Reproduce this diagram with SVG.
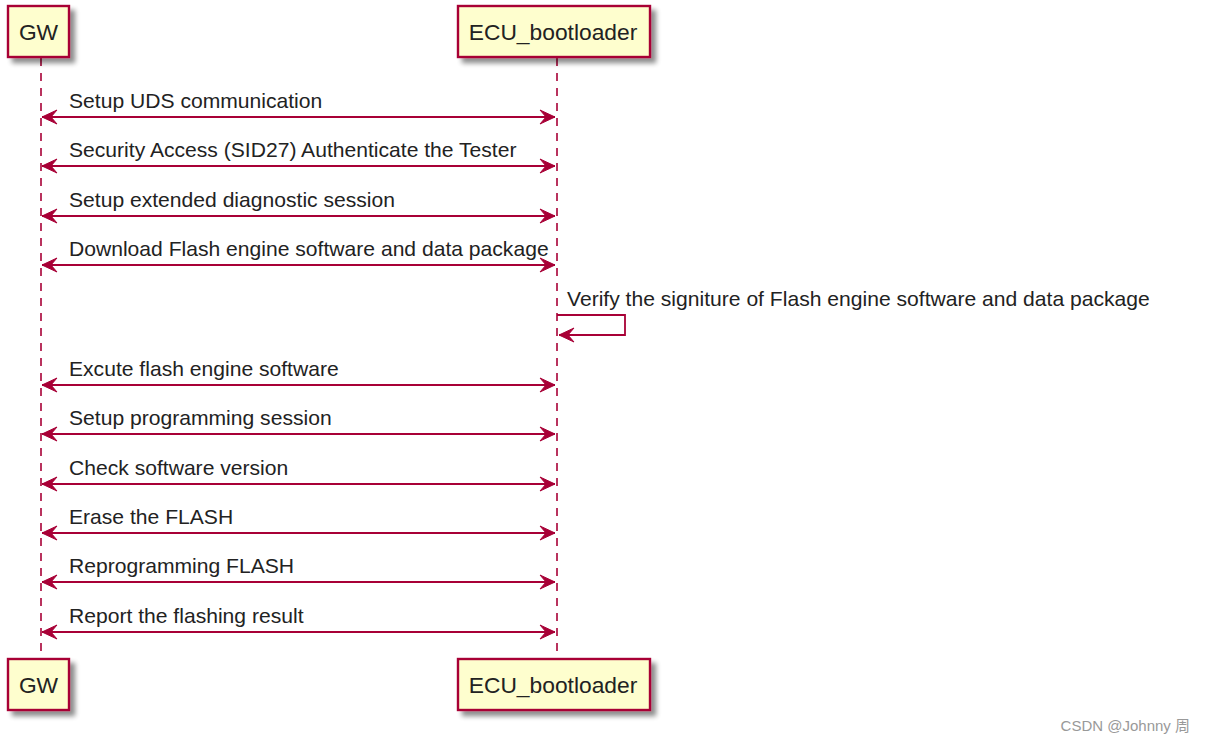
<svg xmlns="http://www.w3.org/2000/svg" width="1205" height="744" viewBox="0 0 1205 744">
<style>
.box{fill:#FEFECE;stroke:#A80036;stroke-width:2.4}
.lbl{font-family:"Liberation Sans",Arial,sans-serif;font-size:22.8px;fill:#222}
.msg{font-family:"Liberation Sans",Arial,sans-serif;font-size:21.1px;fill:#222}
.life{stroke:#A80036;stroke-width:1.6;stroke-dasharray:8,7;fill:none}
.arr{stroke:#A80036;stroke-width:1.8;fill:none}
</style>
<defs>
<filter id="sh" x="-20%" y="-20%" width="150%" height="150%">
<feGaussianBlur in="SourceAlpha" stdDeviation="2.5"/>
<feOffset dx="5" dy="5" result="b"/>
<feComponentTransfer><feFuncA type="linear" slope="0.45"/></feComponentTransfer>
<feMerge><feMergeNode/><feMergeNode in="SourceGraphic"/></feMerge>
</filter>
<marker id="ah" viewBox="-16 -8 18 16" refX="0" refY="0" markerWidth="18" markerHeight="16" markerUnits="userSpaceOnUse" orient="auto-start-reverse">
<path d="M0,0 L-15,-7 L-9,0 L-15,7 Z" fill="#A80036" stroke="#A80036" stroke-width="1"/>
</marker>
</defs>
<rect width="1205" height="744" fill="#fff"/>
<g id="lifelines">
<line class="life" x1="41" y1="58" x2="41" y2="658"/>
<line class="life" x1="557" y1="58" x2="557" y2="658"/>
</g>
<g id="gw-top"><rect class="box" x="8" y="6" width="61" height="51" filter="url(#sh)"/><text class="lbl" x="38.5" y="40" text-anchor="middle">GW</text></g>
<g id="ecu-top"><rect class="box" x="458" y="6" width="192" height="51" filter="url(#sh)"/><text class="lbl" x="553" y="40" text-anchor="middle">ECU_bootloader</text></g>
<g id="gw-bottom"><rect class="box" x="8" y="659" width="61" height="51" filter="url(#sh)"/><text class="lbl" x="38.5" y="693" text-anchor="middle">GW</text></g>
<g id="ecu-bottom"><rect class="box" x="458" y="659" width="192" height="51" filter="url(#sh)"/><text class="lbl" x="553" y="693" text-anchor="middle">ECU_bootloader</text></g>
<g id="connectors">
<line class="arr" x1="42" y1="117" x2="555" y2="117" marker-start="url(#ah)" marker-end="url(#ah)"/>
<line class="arr" x1="42" y1="166" x2="555" y2="166" marker-start="url(#ah)" marker-end="url(#ah)"/>
<line class="arr" x1="42" y1="216" x2="555" y2="216" marker-start="url(#ah)" marker-end="url(#ah)"/>
<line class="arr" x1="42" y1="265" x2="555" y2="265" marker-start="url(#ah)" marker-end="url(#ah)"/>
<polyline class="arr" points="557,315 625,315 625,335 559,335" marker-end="url(#ah)"/>
<line class="arr" x1="42" y1="385" x2="555" y2="385" marker-start="url(#ah)" marker-end="url(#ah)"/>
<line class="arr" x1="42" y1="434" x2="555" y2="434" marker-start="url(#ah)" marker-end="url(#ah)"/>
<line class="arr" x1="42" y1="484" x2="555" y2="484" marker-start="url(#ah)" marker-end="url(#ah)"/>
<line class="arr" x1="42" y1="533" x2="555" y2="533" marker-start="url(#ah)" marker-end="url(#ah)"/>
<line class="arr" x1="42" y1="582" x2="555" y2="582" marker-start="url(#ah)" marker-end="url(#ah)"/>
<line class="arr" x1="42" y1="632" x2="555" y2="632" marker-start="url(#ah)" marker-end="url(#ah)"/>
</g>
<g id="labels">
<text class="msg" x="69" y="108">Setup UDS communication</text>
<text class="msg" x="69" y="157">Security Access (SID27) Authenticate the Tester</text>
<text class="msg" x="69" y="207">Setup extended diagnostic session</text>
<text class="msg" x="69" y="256">Download Flash engine software and data package</text>
<text class="msg" x="567" y="306">Verify the signiture of Flash engine software and data package</text>
<text class="msg" x="69" y="376">Excute flash engine software</text>
<text class="msg" x="69" y="425">Setup programming session</text>
<text class="msg" x="69" y="475">Check software version</text>
<text class="msg" x="69" y="524">Erase the FLASH</text>
<text class="msg" x="69" y="573">Reprogramming FLASH</text>
<text class="msg" x="69" y="623">Report the flashing result</text>
</g>
<text x="1190" y="731" text-anchor="end" font-family="'Liberation Sans','Noto Sans CJK SC',sans-serif" font-size="15" fill="#999">CSDN @Johnny 周</text>
</svg>
